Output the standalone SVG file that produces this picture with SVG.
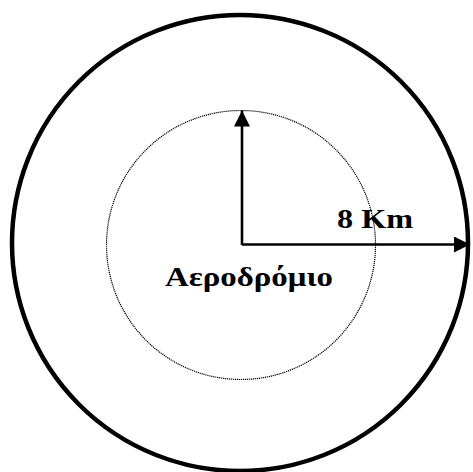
<svg xmlns="http://www.w3.org/2000/svg" width="473" height="472" viewBox="0 0 473 472">
<style>
.lbl{font-family:"Liberation Serif","Times New Roman",serif;font-weight:bold;font-size:28px;fill:#000}
.ar{stroke:#000;stroke-width:2.6;fill:none}
</style>
<defs>
<marker id="ah" markerUnits="userSpaceOnUse" markerWidth="16" markerHeight="16" refX="16" refY="8" orient="auto">
<path d="M0,0 L16,8 L0,16 Z" fill="#000"/>
</marker>
</defs>
<rect width="473" height="472" fill="#fff"/>
<g id="outer"><circle cx="240" cy="243" r="228" fill="none" stroke="#000" stroke-width="4.5"/></g>
<g id="inner"><circle cx="241" cy="245" r="134.5" fill="none" stroke="#000" stroke-width="1.2" stroke-dasharray="1.2,0.8"/></g>
<g id="connectors">
<path class="ar" d="M242,245 L242,110.5" marker-end="url(#ah)"/>
<path class="ar" d="M242,244.5 L470,244.5" marker-end="url(#ah)"/>
</g>
<g id="label-distance"><text class="lbl" x="337" y="228" textLength="76" lengthAdjust="spacingAndGlyphs">8 Km</text></g>
<g id="label-airport"><text class="lbl" x="165" y="286" textLength="168" lengthAdjust="spacingAndGlyphs">Αεροδρόμιο</text></g>
</svg>
